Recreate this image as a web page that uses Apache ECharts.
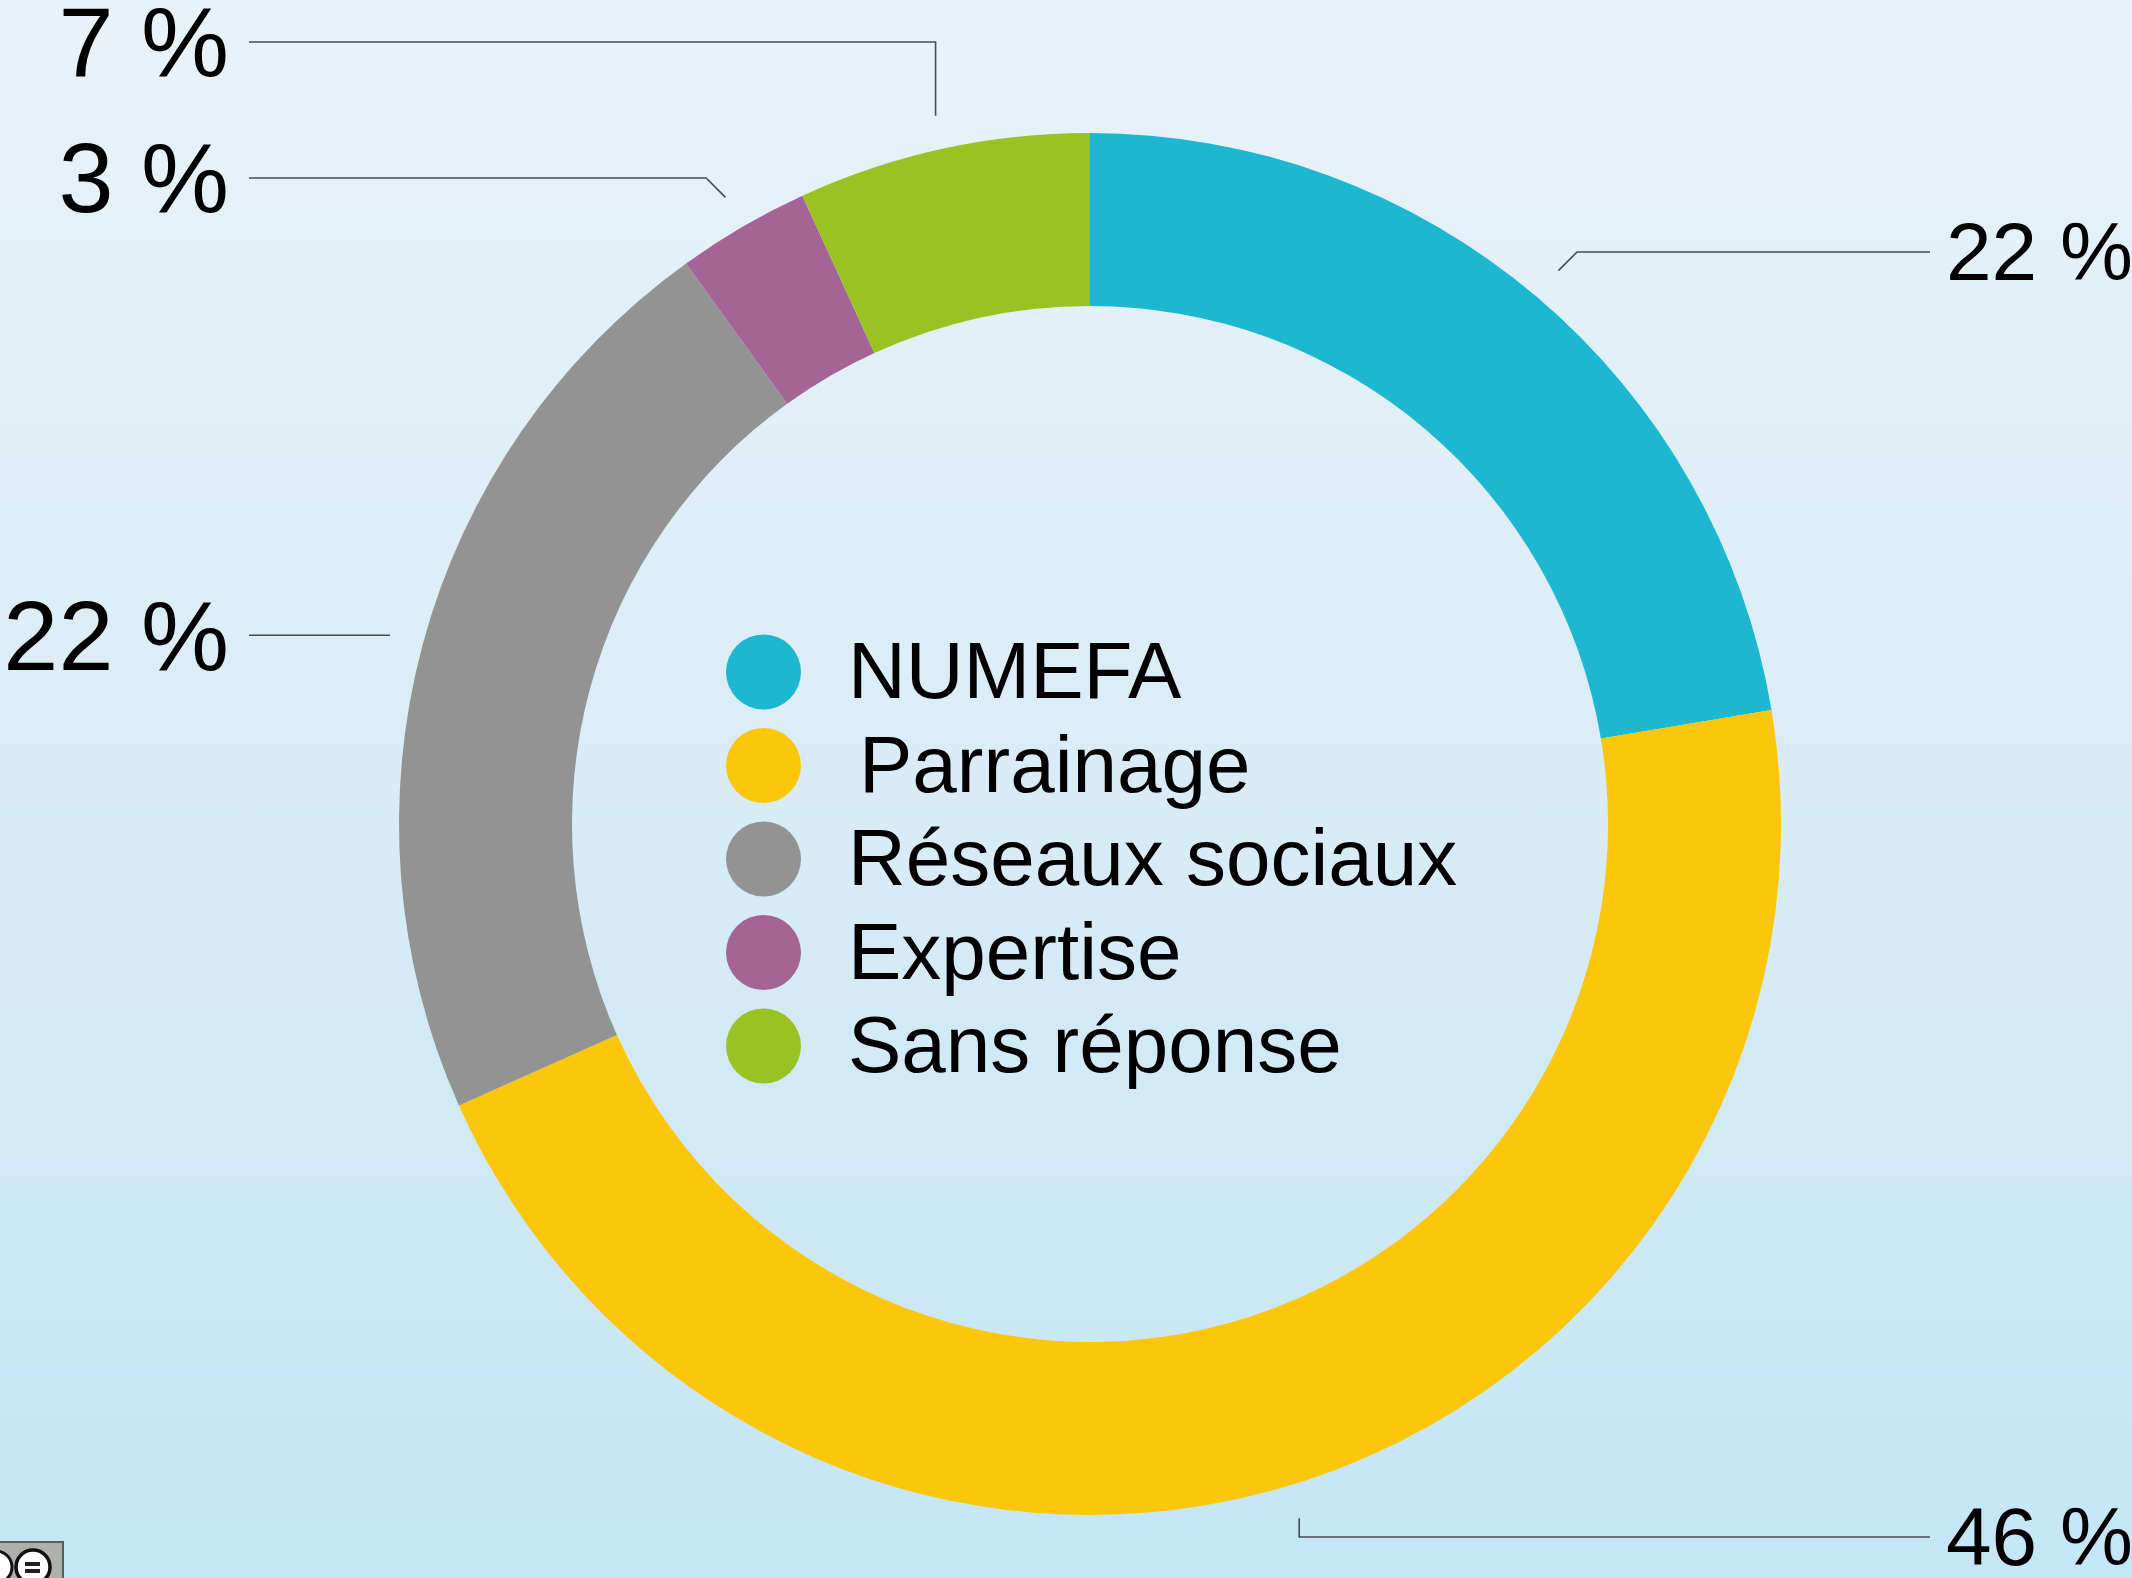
<!DOCTYPE html>
<html>
<head>
<meta charset="utf-8">
<title>Répartition des réponses</title>
<script src="https://cdn.jsdelivr.net/npm/echarts@6/dist/echarts.min.js"></script>
<style>
  html, body { margin: 0; padding: 0; }
  #chart {
    width: 2132px;
    height: 1578px;
    background: linear-gradient(to bottom, #e9f2f8 0%, #d9ecf5 50%, #c4e6f6 100%);
  }
</style>
</head>
<body>
<div id="chart"></div>
<script>
// data (answer counts; labels show rounded percentages)
const categories = ["NUMEFA", "Parrainage", "Réseaux sociaux", "Expertise", "Sans réponse"];
const values = [36, 74, 35, 5, 11];
const colors = ["#1db8cf", "#fcc70b", "#939393", "#a46496", "#99c222"];

// leader lines: y of the horizontal part (null = stay at anchor height) and how it bends
const labelRows = [252, 1537, null, 178, 42];
const labelBends = ["diag", "vert", "flat", "diag", "vert"];
// a legend label sits slightly indented in the original
const legendIndent = { Parrainage: 11 };

const CX = 1090;
const CY = 824;
const R_IN = 518;
const R_OUT = 691;
const R_LEAD = 725; // where the leader lines start

const FONT = "'Liberation Sans', Helvetica, Arial, sans-serif";

const chart = echarts.init(document.getElementById("chart"), null, { renderer: "canvas" });

const pieData = categories.map((name, i) => ({
  name,
  value: values[i],
  itemStyle: { color: colors[i] }
}));

chart.setOption({
  backgroundColor: "transparent",
  animation: false,
  legend: {
    orient: "vertical",
    left: 721,
    top: 623,
    icon: "circle",
    itemWidth: 75,
    itemHeight: 75,
    itemGap: 5.5,
    selectedMode: false,
    data: categories,
    formatter(name) {
      return legendIndent[name] ? "{i|" + name + "}" : "{n|" + name + "}";
    },
    textStyle: {
      color: "#000",
      fontFamily: FONT,
      fontSize: 80,
      lineHeight: 67,
      rich: {
        n: { fontFamily: FONT, fontSize: 80, lineHeight: 67, color: "#000", padding: [8, 0, 0, 42] },
        i: { fontFamily: FONT, fontSize: 80, lineHeight: 67, color: "#000", padding: [8, 0, 0, 53] }
      }
    }
  },
  series: [
    {
      type: "pie",
      center: [CX, CY],
      radius: [R_IN, R_OUT],
      startAngle: 90,
      clockwise: true,
      avoidLabelOverlap: false,
      silent: true,
      data: pieData,
      itemStyle: { borderWidth: 0 },
      label: {
        show: true,
        position: "outside",
        formatter: (p) => Math.round(p.percent) + " %",
        color: "#000",
        fontFamily: FONT,
        fontSize: 99
      },
      labelLine: {
        show: true,
        length: 15,
        length2: 15,
        lineStyle: { color: "#454c52", width: 1.6 }
      },
      labelLayout(p) {
        // start point given by the library sits on the outer arc, at mid-angle
        const pt = p.labelLinePoints[0];
        let dx = pt[0] - CX;
        let dy = pt[1] - CY;
        const len = Math.hypot(dx, dy);
        dx /= len;
        dy /= len;
        const ax = CX + dx * R_LEAD;
        const ay = CY + dy * R_LEAD;
        const bend = labelBends[p.dataIndex];
        const rowY = labelRows[p.dataIndex] == null ? ay : labelRows[p.dataIndex];
        const left = dx < 0;
        const rise = Math.abs(ay - rowY);
        let mx = ax;
        if (bend === "diag") mx = ax + (left ? -rise : rise);
        const endX = left ? 249 : 1930;
        return {
          x: left ? 229 : 1946,
          y: rowY + (left ? 7 : 5),
          align: left ? "right" : "left",
          verticalAlign: "middle",
          fontSize: left ? 99 : 82,
          labelLinePoints: [[ax, ay], [mx, rowY], [endX, rowY]]
        };
      }
    }
  ],
  graphic: [
    {
      // cropped licence badge, bottom left corner
      type: "group",
      x: 0,
      y: 1542,
      children: [
        { type: "rect", shape: { x: -4, y: 0, width: 67, height: 44 }, style: { fill: "#adb1aa", stroke: "#5a5d58", lineWidth: 2 } },
        { type: "circle", shape: { cx: -4, cy: 25, r: 16 }, style: { fill: "#fff", stroke: "#111", lineWidth: 3 } },
        { type: "circle", shape: { cx: 33, cy: 25, r: 17 }, style: { fill: "#fff", stroke: "#111", lineWidth: 3.5 } },
        { type: "rect", shape: { x: 25, y: 20, width: 15, height: 4 }, style: { fill: "#222" } },
        { type: "rect", shape: { x: 25, y: 27, width: 15, height: 4 }, style: { fill: "#222" } }
      ]
    }
  ]
});
</script>
</body>
</html>
